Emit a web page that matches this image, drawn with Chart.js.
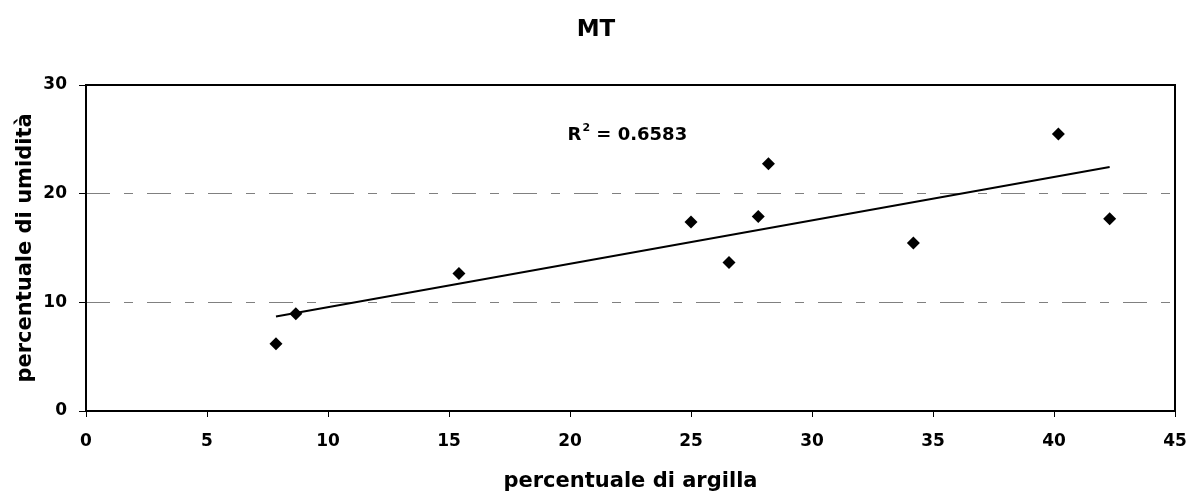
<!DOCTYPE html>
<html>
<head>
<meta charset="utf-8">
<script src="https://cdn.jsdelivr.net/npm/chart.js@4.4.1/dist/chart.umd.min.js"></script>
<style>
  html, body { margin: 0; padding: 0; background: #ffffff; }
  #wrap { width: 1192px; height: 496px; position: relative; }
</style>
</head>
<body>
<div id="wrap"><canvas id="c" width="1192" height="496"></canvas></div>
<script>
// ---- data ----
const argilla = [7.85, 8.67, 15.41, 25.0, 26.57, 27.78, 28.2, 34.19, 40.18, 42.3];
const umidita = [6.2, 8.94, 12.65, 17.4, 13.67, 17.9, 22.76, 15.45, 25.5, 17.7];
const trendX = [7.85, 42.3];
const trendY = [8.69, 22.45];
const xTicks = [0, 5, 10, 15, 20, 25, 30, 35, 40, 45];
const yTicks = [0, 10, 20, 30];
const r2Text = '0.6583';
const chartTitle = 'MT';
const xTitle = 'percentuale di argilla';
const yTitle = 'percentuale di umidità';

const FONT = "'DejaVu Sans', Verdana, sans-serif";

const points = argilla.map((x, i) => ({ x: x, y: umidita[i] }));
const trend = trendX.map((x, i) => ({ x: x, y: trendY[i] }));

const framePlugin = {
  id: 'frame',
  afterDatasetsDraw(chart) {
    const { ctx, chartArea: a, scales } = chart;
    ctx.save();
    ctx.strokeStyle = '#000';
    ctx.lineWidth = 2;
    ctx.strokeRect(a.left, a.top, a.right - a.left, a.bottom - a.top);
    // R^2 label
    const px = scales.x.getPixelForValue(19.9);
    const py = scales.y.getPixelForValue(24.9);
    ctx.fillStyle = '#000';
    ctx.textBaseline = 'alphabetic';
    ctx.textAlign = 'left';
    ctx.font = "bold 18px " + FONT;
    ctx.fillText('R', px, py);
    let w = ctx.measureText('R').width;
    ctx.font = "bold 11px " + FONT;
    ctx.fillText('2', px + w + 1, py - 9);
    w += ctx.measureText('2').width + 1;
    ctx.font = "bold 18px " + FONT;
    ctx.fillText(' = ' + r2Text, px + w, py);
    // chart title, centred on the canvas
    ctx.font = "bold 23px " + FONT;
    ctx.textAlign = 'center';
    ctx.fillText(chartTitle, chart.width / 2, 36);
    ctx.restore();
  }
};

new Chart(document.getElementById('c'), {
  type: 'scatter',
  data: {
    datasets: [
      {
        label: 'dati',
        data: points,
        pointStyle: 'rectRot',
        pointRadius: 6.5,
        pointHoverRadius: 6.5,
        backgroundColor: '#000',
        borderColor: '#000',
        borderWidth: 0,
        showLine: false
      },
      {
        label: 'tendenza',
        type: 'line',
        data: trend,
        borderColor: '#000',
        borderWidth: 2,
        pointRadius: 0,
        fill: false,
        tension: 0
      }
    ]
  },
  options: {
    responsive: false,
    animation: false,
    devicePixelRatio: 1,
    layout: { padding: { left: 0, right: 17, top: 85, bottom: 0 } },
    plugins: {
      legend: { display: false },
      tooltip: { enabled: false },
      title: { display: false }
    },
    scales: {
      x: {
        type: 'linear',
        min: 0, max: 45,
        afterBuildTicks: (s) => { s.ticks = xTicks.map(v => ({ value: v })); },
        afterFit: (s) => { s.height = 85; s.paddingLeft = 0; s.paddingRight = 0; },
        grid: { drawOnChartArea: false, drawTicks: true, tickLength: 6, tickColor: '#000', tickWidth: 1 },
        border: { display: false },
        ticks: { color: '#000', padding: 14, font: { family: FONT, size: 17, weight: 'bold' }, maxRotation: 0 },
        title: {
          display: true, text: xTitle, color: '#000',
          font: { family: FONT, size: 21, weight: 'bold', lineHeight: 1.2 },
          padding: { top: 2, bottom: 2 }
        }
      },
      y: {
        type: 'linear',
        min: 0, max: 30,
        afterBuildTicks: (s) => { s.ticks = yTicks.map(v => ({ value: v })); },
        afterFit: (s) => { s.width = 86; s.paddingTop = 0; s.paddingBottom = 0; },
        grid: {
          drawOnChartArea: true, drawTicks: true, tickLength: 7,
          color: (c) => (c.tick && (c.tick.value === 0 || c.tick.value === 30)) ? 'rgba(0,0,0,0)' : '#808080',
          tickColor: '#000', lineWidth: 1, tickWidth: 1
        },
        border: { display: false, dash: [24, 14, 9, 14] },
        ticks: { color: '#000', padding: 12, font: { family: FONT, size: 17, weight: 'bold' } },
        title: {
          display: true, text: yTitle, color: '#000',
          font: { family: FONT, size: 21, weight: 'bold', lineHeight: 1.2 },
          padding: { top: 13, bottom: 13 }
        }
      }
    }
  },
  plugins: [framePlugin]
});
</script>
</body>
</html>
